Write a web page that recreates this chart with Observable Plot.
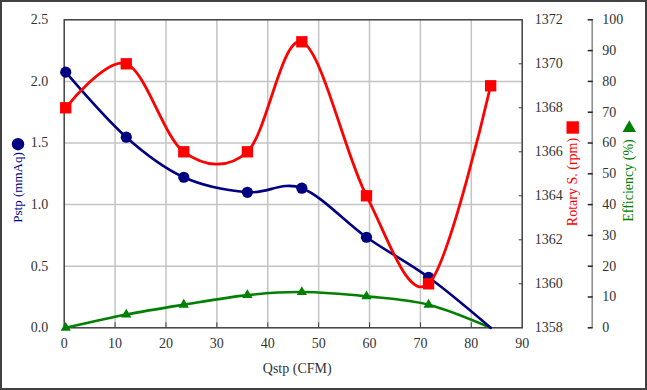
<!DOCTYPE html>
<html><head><meta charset="utf-8">
<script src="https://cdn.jsdelivr.net/npm/d3@7"></script>
<script src="https://cdn.jsdelivr.net/npm/@observablehq/plot@0.6"></script>
<style>
html,body{margin:0;padding:0;background:#fff;}
#wrap{position:relative;width:647px;height:390px;overflow:hidden;}
#border{position:absolute;left:0;top:0;width:647px;height:390px;border:2px solid #404040;box-sizing:border-box;pointer-events:none;}
#chart svg{font-family:"Liberation Serif",serif !important;font-size:14px;}
#chart svg text{font-family:"Liberation Serif",serif !important;}
</style></head><body>
<div id="wrap"><div id="chart"></div><div id="border"></div></div>
<script>
// ---- data ----
const qstp = [0.3, 12.2, 23.5, 36.0, 46.7, 59.4, 71.6, 83.8];
const pstp = [2.075, 1.547, 1.222, 1.10, 1.133, 0.735, 0.41, 0];
const rpm  = [1368, 1370, 1366, 1366, 1371, 1364, 1360, 1369];
const eff  = [0, 4.3, 7.5, 10.6, 11.6, 10.2, 7.5, 0];

const xTicks   = [0, 10, 20, 30, 40, 50, 60, 70, 80, 90];
const pTicks   = [0, 0.5, 1.0, 1.5, 2.0, 2.5];
const rpmTicks = [1358, 1360, 1362, 1364, 1366, 1368, 1370, 1372];
const effTicks = [0, 10, 20, 30, 40, 50, 60, 70, 80, 90, 100];

const xTitle = "Qstp (CFM)";
const pTitle = "Pstp (mmAq)";
const rpmTitle = "Rotary S. (rpm)";
const effTitle = "Efficiency (%)";

// ---- secondary-scale mapping onto the primary y domain ----
const yMax = pTicks[pTicks.length - 1];
const rMin = rpmTicks[0], rMax = rpmTicks[rpmTicks.length - 1];
const eMax = effTicks[effTicks.length - 1];
const fromRpm = r => (r - rMin) / (rMax - rMin) * yMax;
const toRpm = y => String(Math.round(y / yMax * (rMax - rMin) + rMin));
const fromEff = e => e / eMax * yMax;
const toEff = y => String(Math.round(y / yMax * eMax));

const rows = qstp.map((q, i) => ({q, p: pstp[i], r: fromRpm(rpm[i]), e: fromEff(eff[i]), i}));
const last = rows.length - 1;

const NAVY = "#000080", RED = "#ff0000", GREEN = "#008000";
const TXT = "#333333", GRID = "#c4c4c4", AX = "#404040";
const FONT = "Liberation Serif";
const TICKFS = 14;

const chart = Plot.plot({
  width: 647, height: 390,
  marginLeft: 63.7, marginRight: 125.3, marginTop: 19.3, marginBottom: 62.7,
  style: {background: "#fff", color: TXT},
  x: {domain: [xTicks[0], xTicks[xTicks.length - 1]]},
  y: {domain: [pTicks[0], yMax]},
  marks: [
    Plot.gridX(xTicks.slice(1, -1), {stroke: GRID, strokeOpacity: 1, strokeWidth: 1.5}),
    Plot.gridY(pTicks.slice(1, -1), {stroke: GRID, strokeOpacity: 1, strokeWidth: 1.5}),
    Plot.frame({stroke: AX, strokeWidth: 1.5}),

    // series
    Plot.line(rows, {x: "q", y: "e", curve: "cardinal", stroke: GREEN, strokeWidth: 2.6}),
    Plot.dot(rows.filter(d => d.i < last), {x: "q", y: "e", symbol: "triangle", r: 3.8, fill: GREEN}),
    Plot.line(rows, {x: "q", y: "p", curve: "cardinal", stroke: NAVY, strokeWidth: 2.6}),
    Plot.dot(rows.filter(d => d.i < last), {x: "q", y: "p", symbol: "circle", r: 5.6, fill: NAVY}),
    Plot.line(rows, {x: "q", y: "r", curve: "cardinal", stroke: RED, strokeWidth: 2.8}),
    Plot.dot(rows, {x: "q", y: "r", symbol: "square", r: 6.4, fill: RED}),

    // x axis: inward ticks + labels
    Plot.axisX({ticks: xTicks.slice(1, -1), tickSize: 5, dy: -5, fill: "none", stroke: AX, label: null}),
    Plot.axisX({ticks: xTicks, tickSize: 0, tickPadding: 10, fill: TXT, fontFamily: FONT, fontSize: TICKFS, label: null}),
    // left axis
    Plot.axisY({ticks: pTicks, tickSize: 0, tickPadding: 16, tickFormat: d => d.toFixed(1), fill: TXT, fontFamily: FONT, fontSize: TICKFS, label: null}),
    // rpm axis (on frame right)
    Plot.axisY({anchor: "right", ticks: rpmTicks.slice(1, -1).map(fromRpm), tickSize: 4, dx: -4, fill: "none", stroke: AX, label: null}),
    Plot.axisY({anchor: "right", ticks: rpmTicks.map(fromRpm), tickSize: 0, tickPadding: 12.5, tickFormat: toRpm, fill: TXT, fontFamily: FONT, fontSize: TICKFS, label: null}),
    // efficiency axis (offset to the right)
    Plot.ruleX([xTicks[xTicks.length - 1]], {dx: 70, stroke: "#8a8a8a", strokeWidth: 1.5}),
    Plot.axisY({anchor: "right", ticks: effTicks.map(fromEff), tickSize: 5, dx: 65, fill: "none", stroke: "#222", strokeWidth: 1.5, label: null}),
    Plot.axisY({anchor: "right", ticks: effTicks.map(fromEff), tickSize: 0, dx: 70, tickPadding: 10, tickFormat: toEff, fill: TXT, fontFamily: FONT, fontSize: TICKFS, label: null}),

    // titles with legend symbols
    Plot.text([xTitle], {text: d => d, frameAnchor: "bottom", textAnchor: "middle", lineAnchor: "middle", dx: 4, dy: 41, fill: TXT, fontFamily: FONT, fontSize: 14}),
    Plot.text([pTitle], {text: d => d, frameAnchor: "left", textAnchor: "middle", lineAnchor: "middle", dx: -46.2, dy: 13.7, rotate: -90, fill: NAVY, fontFamily: FONT, fontSize: 13}),
    Plot.dot([pTitle], {frameAnchor: "left", dx: -46.2, dy: -29.6, symbol: "circle", r: 6.2, fill: NAVY}),
    Plot.text([rpmTitle], {text: d => d, frameAnchor: "right", textAnchor: "middle", lineAnchor: "middle", dx: 50, dy: 8.2, rotate: -90, fill: RED, fontFamily: FONT, fontSize: 14}),
    Plot.dot([rpmTitle], {frameAnchor: "right", dx: 50.5, dy: -46.3, symbol: "square", r: 7, fill: RED}),
    Plot.text([effTitle], {text: d => d, frameAnchor: "right", textAnchor: "middle", lineAnchor: "middle", dx: 106.6, dy: 6.7, rotate: -90, fill: GREEN, fontFamily: FONT, fontSize: 14}),
    Plot.dot([effTitle], {frameAnchor: "right", dx: 107.1, dy: -45.8, symbol: "triangle", r: 5, fill: GREEN})
  ]
});
document.getElementById("chart").appendChild(chart);
</script>
</body></html>
